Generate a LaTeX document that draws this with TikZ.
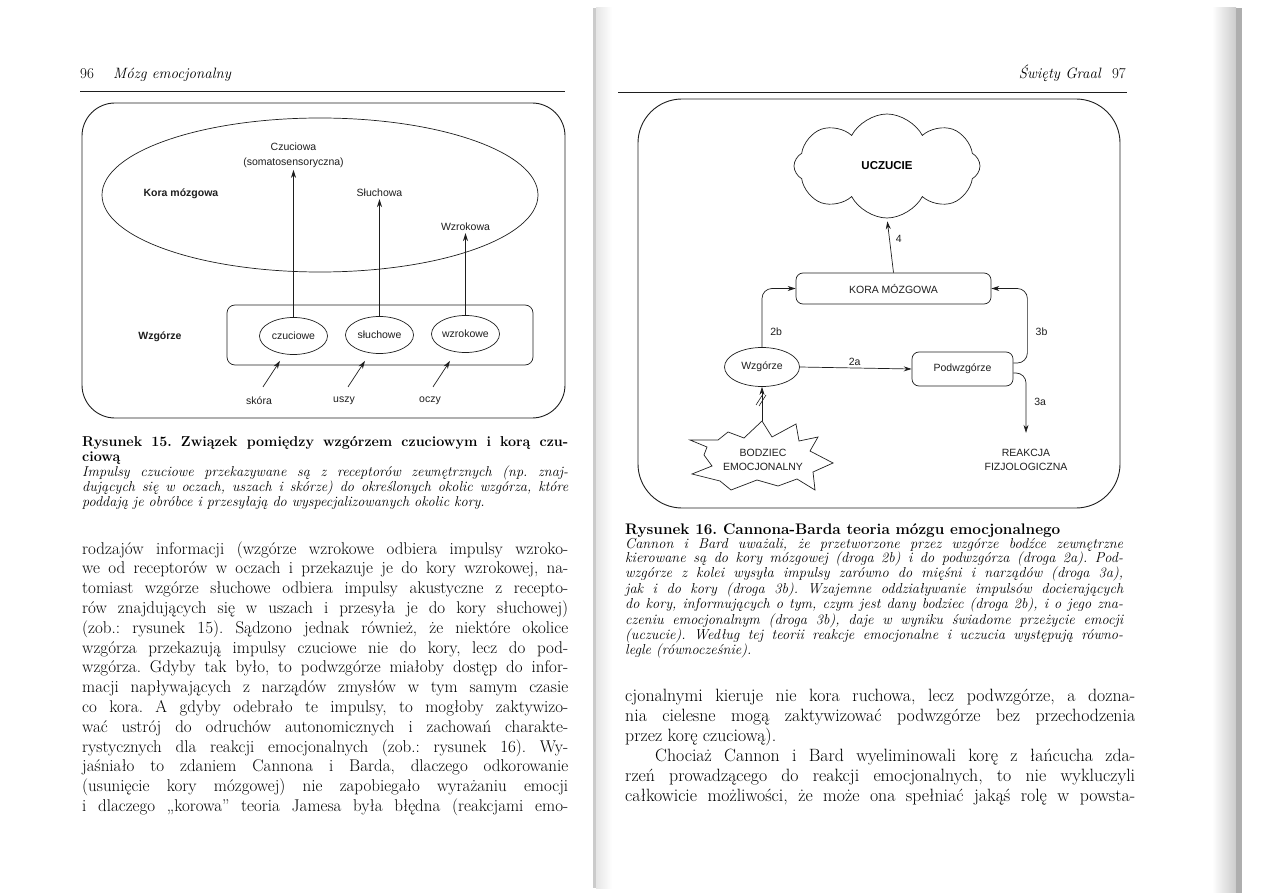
\documentclass[tikz,border=0pt]{standalone}
\usepackage{fontspec}
\newfontfamily\labfont{Liberation Sans}
\usetikzlibrary{arrows.meta,positioning,calc,shapes.geometric,shapes.symbols}
\definecolor{ink}{HTML}{1E1E1E}
\definecolor{scan}{HTML}{8C8C8C}
\frenchspacing

\begin{document}
\begin{tikzpicture}[x=1pt, y=-1pt,
  >={Stealth[length=8pt,width=5pt]},
  lab/.style={font=\labfont\fontsize{10.5}{14.5}\selectfont, text=ink, inner sep=2pt, align=center},
  labb/.style={lab, font=\labfont\bfseries\fontsize{10.5}{14.5}\selectfont},
  frame/.style={draw=ink, line width=0.9pt},
  oval/.style={lab, draw=ink, line width=0.7pt, ellipse, inner sep=0pt},
  box/.style={lab, draw=ink, line width=0.7pt, rounded corners=7pt, inner sep=0pt},
  arr/.style={->, draw=ink, line width=0.7pt},
  head/.style={anchor=base west, inner sep=0pt, font=\fontsize{15}{18}\selectfont},
  body/.style={anchor=base west, inner sep=0pt, align=justify,
    font=\fontsize{17}{19.8}\selectfont\frenchspacing\relax},
  capt/.style={body, font=\fontsize{14.3}{15.2}\selectfont\frenchspacing\relax}]
\useasboundingbox (0,0) rectangle (1266,893);

% scan edges
\fill[scan!45] (593,8) rectangle (596,888);
\shade[left color=scan!22, right color=white] (596,8) rectangle (612,888);
\shade[left color=white, right color=scan!45] (1212,8) rectangle (1236,893);
\fill[scan!70] (1236,8) rectangle (1242,893);

% ---------------- page 96 ----------------
\node[head] (pnl) at (80,79) {96};
\node[head, font=\fontsize{15}{18}\selectfont\itshape] (tytl) at (113,79) {Mózg emocjonalny};
\draw[ink, line width=0.6pt] (80,91) -- (565,91);

\draw[frame, rounded corners=33pt] (82,103) rectangle (565,418);
\node[draw=ink, line width=0.7pt, ellipse, minimum width=436pt, minimum height=154pt] (korael) at (320,195) {};
\node[labb] (koral) at (181,194) {Kora mózgowa};
\node[lab] (czuc) at (293.5,155.5) {Czuciowa\\(somatosensoryczna)};
\node[lab] (sluc) at (379.5,193) {Słuchowa};
\node[lab] (wzro) at (465.5,227) {Wzrokowa};

\node[draw=ink, line width=0.7pt, rounded corners=8pt, minimum width=306pt, minimum height=60pt] (wzgbox) at (380,335) {};
\node[labb] (wzgl) at (160,337) {Wzgórze};
\node[oval, minimum width=68pt, minimum height=37pt] (ecz) at (293.5,336) {czuciowe};
\node[oval, minimum width=68pt, minimum height=37pt] (esl) at (379.5,335) {słuchowe};
\node[oval, minimum width=68pt, minimum height=37pt] (ewz) at (465.5,334) {wzrokowe};
\draw[arr] (ecz.north) -- (czuc.south);
\draw[arr] (esl.north) -- (sluc.south);
\draw[arr] (ewz.north) -- (wzro.south);

\node[lab] (skora) at (259,401) {skóra};
\node[lab] (uszy) at (344,401) {uszy};
\node[lab] (oczy) at (430,401) {oczy};
\draw[arr] ($(skora.north)+(4,-8)$) -- ++(17,-26);
\draw[arr] ($(uszy.north)+(4,-8)$) -- ++(17,-26);
\draw[arr] ($(oczy.north)+(3,-8)$) -- ++(17,-26);

\node[capt, text width=486pt] (cap15) at (82,446) {\textbf{Rysunek 15. Związek pomiędzy wzgórzem czuciowym i korą czu-\linebreak
ciową}\par\itshape
Impulsy czuciowe przekazywane są z receptorów zewnętrznych (np. znaj-\linebreak
dujących się w oczach, uszach i skórze) do określonych okolic wzgórza, które\linebreak
poddają je obróbce i przesyłają do wyspecjalizowanych okolic kory.};

\node[body, text width=486pt] (txtl) at (82,554) {\parfillskip=0pt
rodzajów informacji (wzgórze wzrokowe odbiera impulsy wzroko-\linebreak
we od receptorów w oczach i przekazuje je do kory wzrokowej, na-\linebreak
tomiast wzgórze słuchowe odbiera impulsy akustyczne z recepto-\linebreak
rów znajdujących się w uszach i przesyła je do kory słuchowej)\linebreak
(zob.: rysunek 15). Sądzono jednak również, że niektóre okolice\linebreak
wzgórza przekazują impulsy czuciowe nie do kory, lecz do pod-\linebreak
wzgórza. Gdyby tak było, to podwzgórze miałoby dostęp do infor-\linebreak
macji napływających z narządów zmysłów w tym samym czasie\linebreak
co kora. A gdyby odebrało te impulsy, to mogłoby zaktywizo-\linebreak
wać ustrój do odruchów autonomicznych i zachowań charakte-\linebreak
rystycznych dla reakcji emocjonalnych (zob.: rysunek 16). Wy-\linebreak
jaśniało to zdaniem Cannona i Barda, dlaczego odkorowanie\linebreak
(usunięcie kory mózgowej) nie zapobiegało wyrażaniu emocji\linebreak
i dlaczego „korowa” teoria Jamesa była błędna (reakcjami emo-\par};

% ---------------- page 97 ----------------
\node[head, anchor=base east] (pnr) at (1126,79) {97};
\node[head, anchor=base east, font=\fontsize{15}{18}\selectfont\itshape] (tytr) at (1101,79) {Święty Graal};
\draw[ink, line width=0.6pt] (618,92) -- (1127,92);

\draw[frame, rounded corners=44pt] (638,99) rectangle (1120,508);
\node[cloud, draw=ink, line width=0.7pt, cloud puffs=8, cloud puff arc=125, aspect=1.9, minimum width=186pt, minimum height=104pt,
      font=\labfont\bfseries\fontsize{11.5}{14}\selectfont] (uczucie) at (887,166) {UCZUCIE};
\node[box, minimum width=195pt, minimum height=31pt] (kora) at (893.5,288.5) {KORA MÓZGOWA};
\node[oval, minimum width=75pt, minimum height=39pt] (wzgo) at (762,367) {Wzgórze};
\node[box, minimum width=101pt, minimum height=34pt] (podw) at (962.5,369) {Podwzgórze};
\node[lab] (reak) at (1026,460) {REAKCJA\\FIZJOLOGICZNA};

\draw[arr, shorten >=3pt] (kora.north) -- node[lab, right=4pt, pos=0.62] {4} (uczucie.south);
\draw[arr, rounded corners=10pt] (wzgo.north) |- node[lab, right=6pt, pos=0.13] {2b} (kora.west);
\draw[arr] (wzgo.east) -- node[lab, above, pos=0.49] {2a} (podw.west);
\draw[arr, rounded corners=10pt] ($(podw.east)+(0,-6)$) -| node[lab, right=6pt, pos=0.71] {3b} ($(kora.east)+(36,0)$) -- (kora.east);
\draw[arr, rounded corners=10pt] ($(podw.east)+(0,4)$) -| node[lab, right=6pt, pos=0.745] {3a} ([yshift=14pt]reak.north);

% bodziec
\coordinate (bodtop) at (762,421);
\draw[ink, line width=0.7pt] (bodtop) -- (772,437) -- (796,424) -- (799,441) -- (818,437) -- (810,451) -- (833,463)
  -- (813,472) -- (815,490) -- (797,479) -- (778,486) -- (757,480) -- (731,490) -- (720,481) -- (692,474)
  -- (712,466) -- (704,455) -- (707,447) -- (690,440) -- (718,440) -- (728,432) -- (744,438) -- cycle;
\node[lab] (bodz) at (763,460) {BODZIEC\\EMOCJONALNY};
\draw[arr] (bodtop) -- (wzgo.south);
\draw[ink, line width=0.6pt] (756,405) -- (763,394) (759,406) -- (766,395);

\node[capt, text width=498pt, font=\fontsize{14.4}{14.2}\selectfont\frenchspacing\relax] (cap16) at (625,534) {{\fontsize{15.3}{14.2}\selectfont\bfseries Rysunek 16. Cannona-Barda teoria mózgu emocjonalnego}\par\itshape
Cannon i Bard uważali, że przetworzone przez wzgórze bodźce zewnętrzne\linebreak
kierowane są do kory mózgowej (droga 2b) i do podwzgórza (droga 2a). Pod-\linebreak
wzgórze z kolei wysyła impulsy zarówno do mięśni i narządów (droga 3a),\linebreak
jak i do kory (droga 3b). Wzajemne oddziaływanie impulsów docierających\linebreak
do kory, informujących o tym, czym jest dany bodziec (droga 2b), i o jego zna-\linebreak
czeniu emocjonalnym (droga 3b), daje w wyniku świadome przeżycie emocji\linebreak
(uczucie). Według tej teorii reakcje emocjonalne i uczucia występują równo-\linebreak
legle (równocześnie).};

\node[body, text width=510pt, font=\fontsize{17.8}{20}\selectfont\frenchspacing\relax] (txtr) at (625,701) {
cjonalnymi kieruje nie kora ruchowa, lecz podwzgórze, a dozna-\linebreak
nia cielesne mogą zaktywizować podwzgórze bez przechodzenia\linebreak
przez korę czuciową).\par
\hspace*{30pt}Chociaż Cannon i Bard wyeliminowali korę z łańcucha zda-\linebreak
rzeń prowadzącego do reakcji emocjonalnych, to nie wykluczyli\linebreak
całkowicie możliwości, że może ona spełniać jakąś rolę w powsta-{\parfillskip=0pt\par}};
\end{tikzpicture}
\end{document}
